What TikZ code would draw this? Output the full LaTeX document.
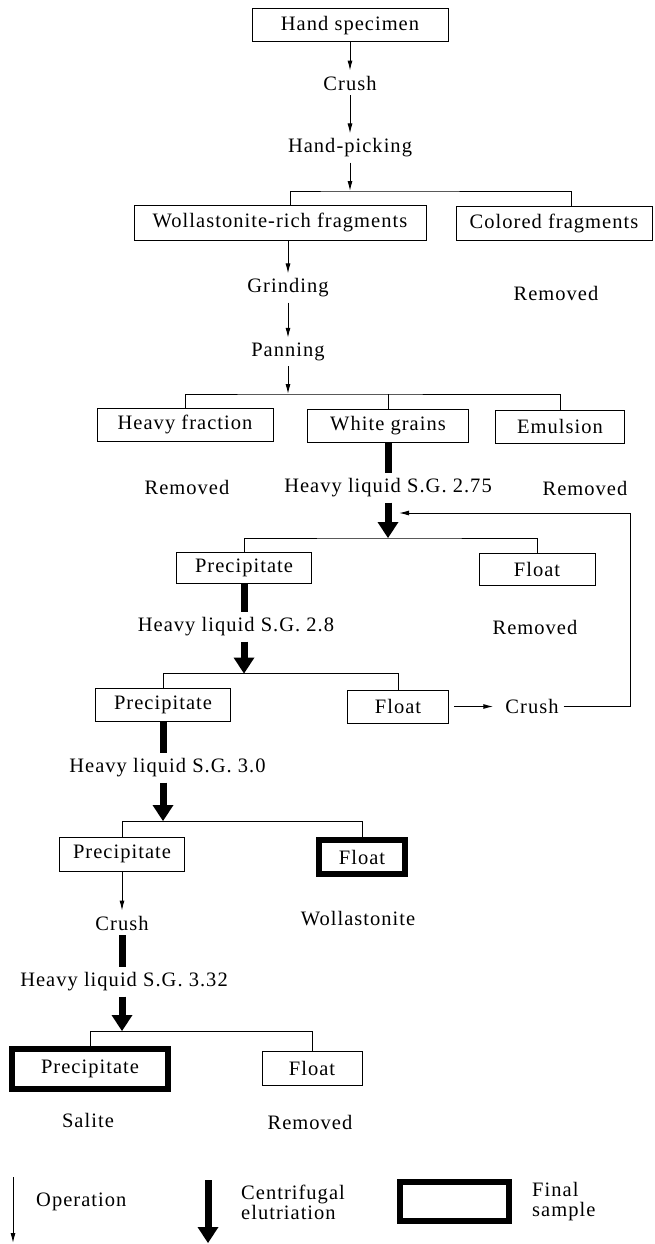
\documentclass[tikz,border=0pt]{standalone}
\usepackage{fontspec}
\setmainfont{Liberation Serif}[LetterSpace=5.0]
\usepackage{tikz}
\usetikzlibrary{arrows.meta}

\begin{document}
\begin{tikzpicture}[
  x=1pt, y=-1pt,
  every node/.style={font=\fontsize{20.5}{20}\selectfont},
  box/.style={draw, line width=1pt, minimum height=33pt, inner sep=0pt},
  final/.style={draw, line width=6pt, inner sep=0pt},
  lab/.style={inner sep=5pt},
  tree/.style={line width=1pt},
  op/.style={line width=1pt, -{Latex[length=10pt,width=5pt]}},
  elu/.style={line width=7pt},
  elutip/.style={line width=7pt, -{Triangle[length=16pt,width=21pt,line width=0pt]}}
]
\useasboundingbox (0,0) rectangle (654,1244);

% Hand specimen and first split
\node[box, minimum width=196pt] (hand) at (350,25.5) {Hand specimen};
\node[lab] (crushA) at (350,83) {Crush};
\node[lab] (pick) at (350,148) {Hand-picking};
\coordinate (bA) at (350,191);
\node[box, minimum width=292pt, minimum height=35pt] (wrf) at (280,222.5) {Wollastonite-rich fragments};
\node[box, minimum width=196pt, minimum height=34pt] (colfr) at (554,223) {Colored fragments};
\node[lab] (remA) at (556,293) {Removed};
\node[lab] (grind) at (288,288) {Grinding};
\node[lab] (pan) at (288,352) {Panning};

\draw[op] (hand) -- (crushA);
\draw[op] (crushA) -- (pick);
\draw[op] (pick) -- (bA);
\draw[tree] ([xshift=10pt]wrf.north) |- (bA) -| ([xshift=17pt]colfr.north);
\draw[op] (wrf.south -| grind) -- (grind);
\draw[op] (grind) -- (pan);

% Panning products
\coordinate (bB) at (288,394);
\node[box, minimum width=176pt] (heavy) at (185,424.5) {Heavy fraction};
\node[box, minimum width=161pt] (white) at (388,425.5) {White grains};
\node[box, minimum width=129pt] (emul) at (560,426.5) {Emulsion};
\node[lab] (remB) at (187,487) {Removed};
\node[lab] (sgA) at (388,488) {Heavy liquid S.G. 2.75};
\node[lab] (remC) at (585,488) {Removed};

\draw[op] (pan) -- (bB);
\draw[tree] (heavy.north) |- (bB) -| (emul.north);
\draw[tree] (white.north) -- (white.north |- bB);

% S.G. 2.75
\coordinate (bC) at (388,538);
\node[box, minimum width=135pt, minimum height=31pt] (precA) at (244,567.5) {Precipitate};
\node[box, minimum width=116pt, minimum height=32pt] (floatA) at (537,569) {Float};
\node[lab] (remD) at (535,627) {Removed};
\node[lab] (sgB) at (236,627) {Heavy liquid S.G. 2.8};

\draw[elu] (white) -- (sgA);
\draw[elutip] (sgA) -- (bC);
\draw[tree] (precA.north) |- (bC) -| (floatA.north);

% S.G. 2.8 and the return loop
\coordinate (bD) at (244,673.5);
\node[box, minimum width=135pt] (precB) at (163,704.5) {Precipitate};
\node[box, minimum width=101pt] (floatB) at (398,706.5) {Float};
\node[lab] (crushB) at (532,706.5) {Crush};
\coordinate (loopA) at (630,513);
\coordinate (loopB) at (399,513);

\draw[elu] (precA.south) -- (precA.south |- sgB.north);
\draw[elutip] (sgB.south -| bD) -- (bD);
\draw[tree] (precB.north) |- (bD) -| (floatB.north);
\draw[op, shorten <=5pt, shorten >=7pt] (floatB) -- (crushB);
\draw[op] (crushB) -| (loopA) -- (loopB);

% S.G. 3.0
\node[lab] (sgC) at (167.5,768) {Heavy liquid S.G. 3.0};
\coordinate (bE) at (163,821);
\node[box, minimum width=125pt, minimum height=34pt] (precC) at (122,854) {Precipitate};
\node[final, minimum width=86pt, minimum height=34pt] (floatC) at (362,857) {Float};
\node[lab] (woll) at (358,919) {Wollastonite};
\node[lab] (crushC) at (122,923) {Crush};

\draw[elu] (precB.south) -- (precB.south |- sgC.north);
\draw[elutip] (sgC.south -| bE) -- (bE);
\draw[tree] (precC.north) |- (bE) -| (floatC.north);
\draw[op] (precC) -- (crushC);

% S.G. 3.32
\node[lab] (sgD) at (124,982) {Heavy liquid S.G. 3.32};
\coordinate (bF) at (122,1031);
\node[final, minimum width=156pt, minimum height=40pt] (precD) at (90,1069) {Precipitate};
\node[box, minimum width=100pt, minimum height=34pt] (floatD) at (312,1068) {Float};
\node[lab] (salite) at (88,1120) {Salite};
\node[lab] (remE) at (310,1122) {Removed};

\draw[elu] (crushC.south) -- (crushC.south |- sgD.north);
\draw[elutip] (sgD.south -| bF) -- (bF);
\draw[tree] (precD.north) |- (bF) -| (floatD.north);

% Legend
\coordinate (opTop) at (13,1177);
\coordinate (opEnd) at (13,1243);
\node[lab, anchor=west] (opText) at (31,1202) {Operation};
\coordinate (eluTop) at (208,1180);
\coordinate (eluEnd) at (208,1243);
\node[lab, anchor=west, align=left] (eluText) at (236,1202) {Centrifugal\\elutriation};
\node[final, minimum width=109pt, minimum height=39pt] (finKey) at (454.5,1201.5) {};
\node[lab, anchor=west, align=left] (finText) at (527,1202) {Final\\sample};

\draw[op] (opTop) -- (opEnd);
\draw[elutip] (eluTop) -- (eluEnd);
\end{tikzpicture}
\end{document}
